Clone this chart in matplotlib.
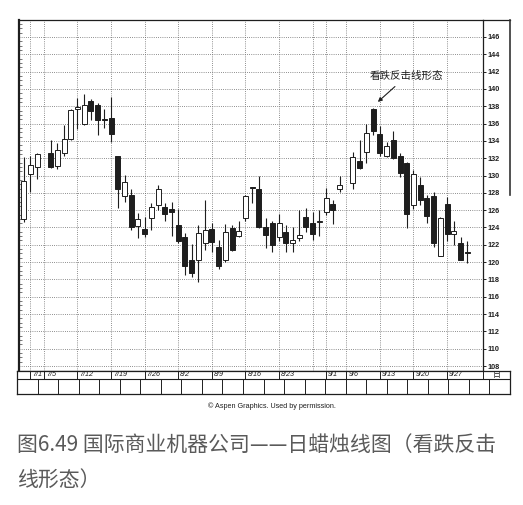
import matplotlib
matplotlib.use("Agg")
import matplotlib.pyplot as plt
import numpy as np

# weekday index from 6/30 (holidays 7/5 and 9/6 left empty)
days = [0, 1, 2, 4, 5, 6, 7, 8, 9, 10, 11, 12, 13, 14, 15, 16, 17, 18, 19, 20,
        21, 22, 23, 24, 25, 26, 27, 28, 29, 30, 31, 32, 33, 34, 35, 36, 37, 38, 39, 40,
        41, 42, 43, 44, 45, 46, 47, 49, 50, 51, 52, 53, 54, 55, 56, 57, 58, 59, 60, 61,
        62, 63, 64, 65, 66]
opens = [125.0, 130.2, 131.0, 132.6, 131.1, 132.6, 134.2, 137.65, 135.9, 138.6,
         138.15, 136.55, 136.7, 132.2, 127.6, 127.8, 124.2, 123.8, 125.1, 126.6,
         126.4, 126.1, 124.3, 122.95, 120.25, 120.25, 122.25, 123.8, 121.7, 120.3,
         123.9, 123.0, 125.1, 128.6, 128.5, 124.1, 124.5, 122.95, 123.5, 122.2,
         122.75, 125.25, 124.5, 124.65, 125.8, 126.7, 128.45, 129.1, 131.7, 132.7,
         137.7, 134.8, 132.2, 134.1, 132.2, 131.5, 126.6, 128.9, 127.4, 127.65,
         120.75, 126.7, 123.2, 122.25, 121.1]
highs = [132.1, 132.2, 132.6, 134.1, 133.7, 135.8, 137.7, 138.9, 139.4, 138.8,
         138.4, 137.7, 139.1, 132.3, 130.1, 128.5, 125.7, 125.25, 126.8, 128.9,
         126.8, 126.9, 126.1, 123.4, 122.1, 124.3, 127.2, 124.5, 122.55, 124.4,
         124.3, 124.75, 127.7, 128.65, 129.9, 125.05, 124.7, 125.6, 124.3, 124.1,
         126.0, 126.2, 125.8, 126.0, 128.6, 127.2, 129.9, 132.75, 134.1, 136.0,
         137.8, 135.7, 133.9, 135.2, 132.65, 131.6, 130.6, 129.8, 127.75, 128.1,
         125.2, 127.5, 124.8, 122.95, 122.4]
lows = [124.6, 128.1, 129.6, 130.9, 130.7, 132.2, 134.1, 135.4, 135.8, 136.4,
        134.7, 135.45, 133.9, 126.2, 127.0, 123.7, 122.75, 122.95, 123.7, 126.0,
        124.7, 123.0, 122.2, 118.5, 118.25, 117.75, 121.4, 121.2, 119.2, 120.05,
        121.3, 122.9, 124.7, 126.8, 123.9, 121.6, 121.2, 122.4, 121.2, 121.2,
        122.4, 123.5, 122.55, 123.0, 125.45, 124.4, 128.1, 128.4, 130.8, 131.4,
        134.7, 132.2, 132.1, 131.9, 129.8, 123.9, 126.1, 126.6, 124.5, 121.8,
        120.7, 122.4, 122.0, 120.2, 119.9]
closes = [129.4, 131.2, 132.5, 131.0, 133.0, 134.2, 137.6, 137.95, 138.1, 137.4,
          136.4, 136.45, 134.8, 128.4, 129.2, 124.1, 124.95, 123.2, 126.4, 128.5,
          125.6, 125.8, 122.45, 119.6, 118.8, 123.4, 123.7, 122.35, 119.5, 123.5,
          121.4, 123.65, 127.6, 128.55, 124.1, 123.1, 122.0, 124.55, 122.2, 122.55,
          123.15, 124.1, 123.3, 124.75, 127.4, 126.0, 128.9, 132.1, 130.9, 134.95,
          135.15, 132.6, 133.45, 132.0, 130.25, 125.55, 130.2, 127.2, 125.3, 122.2,
          125.15, 123.25, 123.6, 120.25, 121.05]

date_days = [1, 3, 8, 13, 18, 23, 28, 33, 38, 45, 48, 53, 58, 63]
date_labels = ["7/1", "7/5", "7/12", "7/19", "7/26", "8/2", "8/9", "8/16",
               "8/23", "9/1", "9/6", "9/13", "9/20", "9/27"]
extra_grid_days = [43]
price_ticks = list(range(108, 147, 2))

note = "看跌反击线形态"
copyright_text = "© Aspen Graphics. Used by permission."
caption1 = "图6.49 国际商业机器公司——日蜡烛线图（看跌反击"
caption2 = "线形态）"

W, H = 523, 505
X0_PX, DX_PX = 23.7, 6.72  # pixel position of day 0 and pixels per day


def rect(l, t, r, b):
    return [l / W, 1 - b / H, (r - l) / W, (b - t) / H]


def px_to_day(px):
    return (px - X0_PX) / DX_PX


plt.rcParams["font.family"] = ["Liberation Sans", "Noto Sans CJK SC", "DejaVu Sans"]
fig = plt.figure(figsize=(W / 100, H / 100), dpi=100)
ink = "#1e1e1e"

ax = fig.add_axes(rect(19, 20, 483, 371))
ax.set_xlim(px_to_day(19), px_to_day(483))
ax.set_ylim(107.43, 147.96)

# grid
ax.set_xticks(sorted(date_days + extra_grid_days))
ax.set_xticklabels([])
ax.tick_params(axis="x", length=0)
ax.set_yticks(price_ticks)
ax.yaxis.tick_right()
ax.tick_params(axis="y", which="major", length=2.5, width=0.7, pad=1,
               labelsize=5.2, colors=ink)
for lab in ax.get_yticklabels():
    lab.set_fontweight("bold")
ax.set_yticks(np.arange(108, 148, 0.5), minor=True)
ax.tick_params(axis="y", which="minor", left=True, right=False, direction="in",
               length=2, width=0.5, colors="#444")
ax.grid(True, which="major", color="#6a6a6a", lw=0.6, ls=(0, (1, 1.6)))
for s in ax.spines.values():
    s.set_color(ink)
    s.set_linewidth(0.9)
ax.spines["left"].set_linewidth(1.6)

# candles
o = np.array(opens)
c = np.array(closes)
bottoms = np.minimum(o, c)
heights = np.maximum(np.abs(c - o), 0.13)
colors = ["white" if cc >= oo else ink for oo, cc in zip(opens, closes)]
ax.vlines(days, lows, highs, color=ink, lw=0.8, zorder=2)
ax.bar(days, heights, bottom=bottoms, width=0.74, color=colors,
       edgecolor=ink, lw=0.7, zorder=3)

ax.annotate(note, xy=(52.7, 138.5), xytext=(57.0, 141.5), ha="center", va="center",
            fontsize=7.6, family=["Noto Sans CJK SC"], color=ink,
            arrowprops=dict(arrowstyle="-|>", color=ink, lw=0.8,
                            mutation_scale=6, shrinkA=3, shrinkB=0))

# date band with boxes below the chart
band = fig.add_axes(rect(17, 371, 510, 394.3))
band.set_xlim(px_to_day(17), px_to_day(510))
band.set_ylim(0, 1)
band.set_xticks([])
band.set_yticks([])
for s in band.spines.values():
    s.set_color(ink)
    s.set_linewidth(0.9)
row = 0.657
band.axhline(row, color=ink, lw=0.8)
band.vlines(date_days + [px_to_day(483)], row, 1, color=ink, lw=0.7)
for f in np.linspace(0, 1, 25)[1:-1]:
    band.plot([f, f], [0, row], transform=band.transAxes, color=ink, lw=0.7)
for d, lab in zip(date_days, date_labels):
    band.text(d + 0.3, (row + 1) / 2, lab, fontsize=5.2, style="italic",
              ha="left", va="center", color=ink)
band.text(px_to_day(497), (row + 1) / 2, "日", fontsize=5.8,
          family=["Noto Sans CJK SC"], ha="center", va="center", color=ink)

# outer frame pieces
fig.add_artist(plt.Line2D([483 / W, 510 / W], [1 - 20 / H, 1 - 20 / H],
                          color=ink, lw=0.9))
fig.add_artist(plt.Line2D([510 / W, 510 / W], [1 - 20 / H, 1 - 195 / H],
                          color="#333", lw=1.2))

fig.text(272 / W, 1 - 406 / H, copyright_text, fontsize=5.2, ha="center",
         va="center", color=ink)
fig.text(17 / W, 1 - 445 / H, caption1, fontsize=15, family=["Noto Sans CJK SC"],
         weight="light", ha="left", va="center", color="#5a5a5a")
fig.text(17 / W, 1 - 480 / H, caption2, fontsize=15, family=["Noto Sans CJK SC"],
         weight="light", ha="left", va="center", color="#5a5a5a")

fig.savefig("out.png", dpi=100, facecolor="white")
